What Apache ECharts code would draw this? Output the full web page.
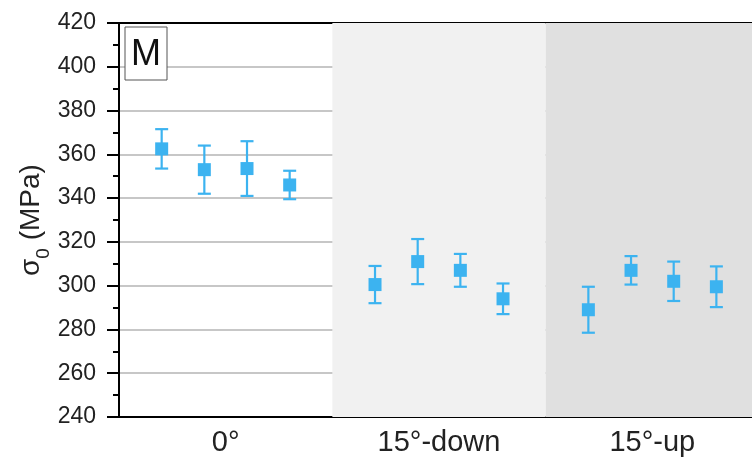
<!DOCTYPE html>
<html><head><meta charset="utf-8">
<script src="https://cdn.jsdelivr.net/npm/echarts@6/dist/echarts.min.js"></script>
<style>html,body{margin:0;padding:0;background:#fff}#c{width:752px;height:461px}</style>
</head><body><div id="c"></div>
<script>
const categories = ['0°', '15°-down', '15°-up'];
const positions = [0.2, 0.4, 0.6, 0.8, 1.2, 1.4, 1.6, 1.8, 2.2, 2.4, 2.6, 2.8];
const means = [362.5, 353, 353.5, 346, 300.5, 311, 307, 294, 289, 307, 302, 299.5];
const errors = [9, 11, 12.5, 6.5, 8.5, 10.3, 7.5, 7, 10.5, 6.5, 9, 9.3];
const yTicks = [240, 260, 280, 300, 320, 340, 360, 380, 400, 420];
const panelLabel = 'M';
const xMax = 2.967; // the last group is cut off by the right edge of the figure

const blue = '#3cb3f0';
const pts = positions.map((x, i) => [x, means[i]]);
const errData = positions.map((x, i) => [x, means[i] - errors[i], means[i] + errors[i]]);
const font = 'Liberation Sans, Arial, sans-serif';

const chart = echarts.init(document.getElementById('c'));
chart.setOption({
  animation: false,
  backgroundColor: '#fff',
  grid: { left: 119, right: 0, top: 23, bottom: 44 },
  xAxis: [{
    type: 'value', min: 0, max: xMax, interval: 0.5,
    axisLine: { show: true, onZero: false, lineStyle: { color: '#000', width: 2 } },
    axisTick: { show: false },
    splitLine: { show: false },
    axisLabel: {
      fontFamily: font, fontSize: 29, color: '#222', margin: 11, showMaxLabel: false,
      formatter: v => { const i = Math.round(v - 0.5); return Math.abs(v - 0.5 - i) < 1e-6 && categories[i] ? categories[i] : ''; }
    }
  }, {
    type: 'value', position: 'top', min: 0, max: xMax,
    axisLine: { show: true, lineStyle: { color: '#000', width: 2 } },
    axisTick: { show: false }, axisLabel: { show: false }, splitLine: { show: false }
  }],
  yAxis: {
    type: 'value', min: yTicks[0], max: yTicks[yTicks.length - 1], interval: 20,
    name: '{a|σ}{b|0}{a| (MPa)}', nameLocation: 'middle', nameGap: 74, nameMoveOverlap: false,
    nameTextStyle: { rich: {
      a: { fontFamily: font, fontSize: 28, color: '#222' },
      b: { fontFamily: font, fontSize: 19, color: '#222', verticalAlign: 'bottom', padding: [0, 0, -8, 0] }
    } },
    axisLine: { show: true, lineStyle: { color: '#000', width: 2 } },
    axisTick: { show: true, inside: false, length: 12, lineStyle: { color: '#000', width: 2 } },
    minorTick: { show: true, splitNumber: 2, length: 6, lineStyle: { color: '#000', width: 2 } },
    axisLabel: { fontFamily: font, fontSize: 23, color: '#222', margin: 23 },
    splitLine: { show: true, lineStyle: { color: '#b4b4b4', width: 1.5 } }
  },
  series: [{
    type: 'scatter', data: [], silent: true,
    markArea: { silent: true, data: [
      [{ xAxis: 1, itemStyle: { color: '#f1f1f1' } }, { xAxis: 2 }],
      [{ xAxis: 2, itemStyle: { color: '#e0e0e0' } }, { xAxis: xMax }]
    ] },
    z: 0
  }, {
    type: 'custom', data: errData, z: 3,
    renderItem: (params, api) => {
      const x = api.value(0);
      const lo = api.coord([x, api.value(1)]);
      const hi = api.coord([x, api.value(2)]);
      const w = 6.5;
      const st = { stroke: blue, lineWidth: 2.2 };
      return { type: 'group', children: [
        { type: 'line', shape: { x1: lo[0], y1: lo[1], x2: hi[0], y2: hi[1] }, style: st },
        { type: 'line', shape: { x1: lo[0] - w, y1: lo[1], x2: lo[0] + w, y2: lo[1] }, style: st },
        { type: 'line', shape: { x1: hi[0] - w, y1: hi[1], x2: hi[0] + w, y2: hi[1] }, style: st }
      ] };
    }
  }, {
    type: 'scatter', data: pts, symbol: 'rect', symbolSize: 13, z: 4,
    itemStyle: { color: blue, opacity: 1 }
  }],
  graphic: [{
    type: 'rect', shape: { x: 125, y: 27, width: 42, height: 53 },
    style: { fill: '#fff', stroke: '#555', lineWidth: 1 }, z: 10
  }, {
    type: 'text', x: 146, y: 55, z: 11,
    style: { text: panelLabel, fontFamily: font, fontSize: 36, fill: '#111', align: 'center', verticalAlign: 'middle' }
  }]
});
</script></body></html>
